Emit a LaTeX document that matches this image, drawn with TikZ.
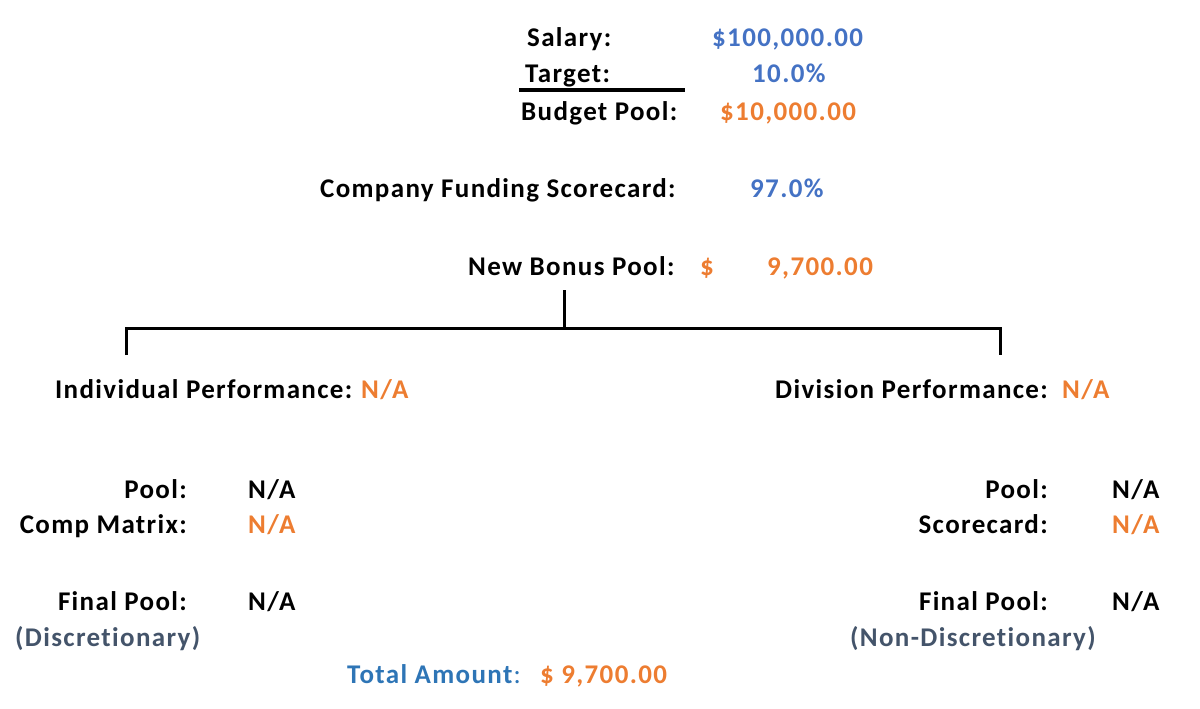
\documentclass[tikz,border=0pt]{standalone}
\usepackage{fontspec}
\setmainfont{Carlito}[LetterSpace=5,Ligatures={NoCommon}]
\definecolor{valblue}{HTML}{4472C4}
\definecolor{valorange}{HTML}{ED7D31}
\definecolor{totblue}{HTML}{2E75B6}
\definecolor{greyblue}{HTML}{44546A}
\begin{document}
\begin{tikzpicture}[x=1pt,y=-1pt,
  txt/.style={inner sep=0pt,font=\fontsize{27}{32}\selectfont\bfseries},
  lbl/.style={txt,anchor=base west},
  rlbl/.style={txt,anchor=base east},
  blueval/.style={lbl,text=valblue},
  orangeval/.style={lbl,text=valorange},
  blackval/.style={lbl},
  note/.style={lbl,text=greyblue},
  bracket/.style={line width=3pt}]
\useasboundingbox (0,0) rectangle (1200,709);
% top block
\node[lbl] (salary) at (527,47) {Salary:};
\node[blueval] (salaryv) at (712,47) {\$100,000.00};
\node[lbl] (target) at (525,83) {Target:};
\node[blueval] (targetv) at (752,83) {10.0\%};
\coordinate (ulA) at (519,90);
\coordinate (ulB) at (685,90);
\draw[line width=3.2pt] (ulA) -- (ulB);
\node[lbl] (budget) at (521,120) {Budget Pool:};
\node[orangeval] (budgetv) at (720,120) {\$10,000.00};
\node[lbl] (cfs) at (320,197) {Company Funding Scorecard:};
\node[blueval] (cfsv) at (750,197) {97.0\%};
\node[lbl] (nbp) at (468,275) {New Bonus Pool:};
\node[orangeval] (nbpd) at (700,275) {\$};
\node[orangeval] (nbpv) at (767,275) {9,700.00};
% bracket
\coordinate (stemT) at (564,290);
\coordinate (stemB) at (564,328);
\coordinate (barL) at (126,328);
\coordinate (barR) at (1000,328);
\coordinate (dropL) at (126,355);
\coordinate (dropR) at (1000,355);
\draw[bracket] (stemT) -- (stemB);
\draw[bracket] (dropL) -- (barL) -- (barR) -- (dropR);
% performance headings
\node[lbl] (indiv) at (55,398) {Individual Performance:};
\node[orangeval] (indivv) at (361,398) {N/A};
\node[lbl] (divp) at (775,398) {Division Performance:};
\node[orangeval] (divpv) at (1062,398) {N/A};
% left column
\node[rlbl] (lpool) at (187,498) {Pool:};
\node[blackval] (lpoolv) at (248,498) {N/A};
\node[rlbl] (lcomp) at (187,533) {Comp Matrix:};
\node[orangeval] (lcompv) at (248,533) {N/A};
\node[rlbl] (lfinal) at (187,610) {Final Pool:};
\node[blackval] (lfinalv) at (248,610) {N/A};
\node[note] (ldisc) at (15,646) {(Discretionary)};
% right column
\node[rlbl] (rpool) at (1048,498) {Pool:};
\node[blackval] (rpoolv) at (1112,498) {N/A};
\node[rlbl] (rscore) at (1048,533) {Scorecard:};
\node[orangeval] (rscorev) at (1112,533) {N/A};
\node[rlbl] (rfinal) at (1048,610) {Final Pool:};
\node[blackval] (rfinalv) at (1112,610) {N/A};
\node[note] (rdisc) at (850,646) {(Non-Discretionary)};
% total
\node[lbl,text=totblue,font=\fontsize{27}{32}\selectfont] (total) at (347,683) {\textbf{Total Amount}:};
\node[orangeval] (totalv) at (540,683) {\$ 9,700.00};
\end{tikzpicture}
\end{document}
